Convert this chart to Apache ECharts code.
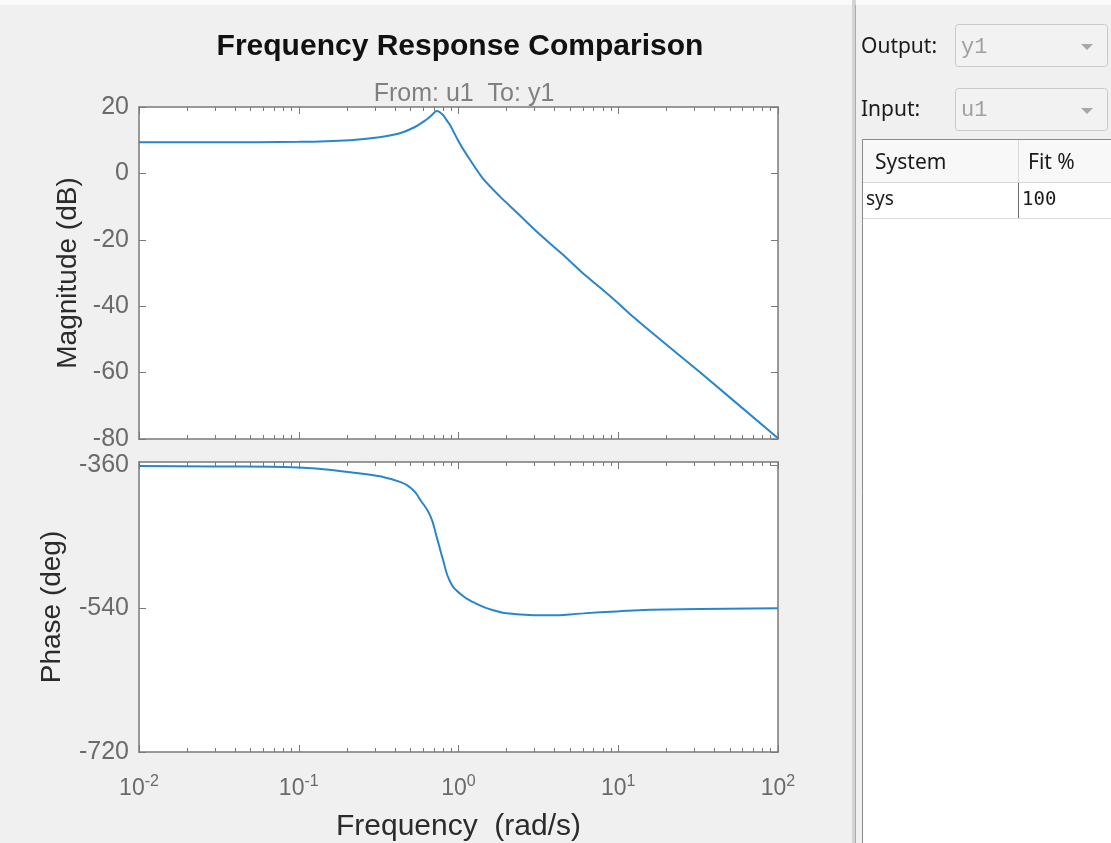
<!DOCTYPE html>
<html>
<head>
<meta charset="utf-8">
<script src="https://cdn.jsdelivr.net/npm/echarts@6/dist/echarts.min.js"></script>
<style>
html, body { margin: 0; padding: 0; background: #f0f0f0; }
#main { width: 1111px; height: 843px; }
</style>
</head>
<body>
<div id="main"></div>
<script>
// values (rad/s, dB, deg)
var freqMag = [0.01, 0.03, 0.1, 0.21, 0.32, 0.43, 0.53, 0.617, 0.664, 0.733, 0.80, 0.84, 0.885, 1.0, 1.13, 1.42, 1.82, 2.32, 2.93, 3.74, 4.78, 6.01, 7.69, 9.82, 12.4, 15.8, 32.5, 100];
var magDb = [9.4, 9.4, 9.5, 10.0, 10.9, 12.1, 13.9, 15.9, 17.1, 18.8, 17.6, 16.1, 14.6, 9.7, 5.5, -1.5, -7, -11.8, -16.5, -21.1, -25.6, -30.1, -34.4, -38.8, -43.2, -47.5, -59.9, -79.8];

var freqPh = [0.01, 0.03, 0.1, 0.21, 0.32, 0.43, 0.519, 0.574, 0.664, 0.73, 0.803, 0.885, 1.02, 1.24, 1.65, 2.31, 3.74, 6.04, 9.78, 15.8, 32.5, 100];
var phaseDeg = [-361, -361.5, -363, -369, -374, -381, -391, -403, -423, -450, -480, -506, -521, -532, -542, -547, -548.5, -546, -543.5, -541.5, -540.5, -539.5];

var freqTicks = [0.01, 0.1, 1, 10, 100];
var freqMinor = [0.02, 0.03, 0.04, 0.05, 0.06, 0.07, 0.08, 0.09,
                 0.2, 0.3, 0.4, 0.5, 0.6, 0.7, 0.8, 0.9,
                 2, 3, 4, 5, 6, 7, 8, 9,
                 20, 30, 40, 50, 60, 70, 80, 90];
var supText = { 0.01: '-2', 0.1: '-1', 1: '0', 10: '1', 100: '2' };
var magTicks = [-80, -60, -40, -20, 0, 20];
var phaseTicks = [-720, -540, -360];

var chartDom = document.getElementById('main');
var myChart = echarts.init(chartDom);
var option;

var boxColor = '#7a7a7a';
var labelColor = '#6a6a6a';
var font = 'Liberation Sans';

function freqAxis(grid, pos, minor, withLabels) {
  return {
    type: 'log',
    logBase: 10,
    gridIndex: grid,
    position: pos,
    min: 0.01,
    max: 100,
    axisLine: { show: !minor, onZero: false, lineStyle: { color: boxColor, width: 1.5 } },
    axisTick: {
      show: true,
      inside: true,
      length: minor ? 4 : 7,
      customValues: minor ? freqMinor : freqTicks,
      lineStyle: { color: boxColor },
    },
    axisLabel: withLabels
      ? {
          show: true,
          customValues: freqTicks,
          margin: 22,
          formatter: function (v) {
            return '{b|10}{s|' + supText[v] + '}';
          },
          rich: {
            b: { fontSize: 23, fontFamily: font, color: labelColor },
            s: { fontSize: 16, fontFamily: font, color: labelColor, padding: [0, 0, 13, 0] },
          },
        }
      : { show: false },
    splitLine: { show: false },
  };
}

function valAxis(grid, pos, min, max, ticks, withLabels, name, gap) {
  return {
    type: 'value',
    gridIndex: grid,
    position: pos,
    min: min,
    max: max,
    name: name || '',
    nameLocation: 'middle',
    nameGap: gap || 0,
    nameRotate: 90,
    nameTextStyle: { fontSize: 28, fontFamily: font, color: '#2b2b2b' },
    axisLine: { show: true, onZero: false, lineStyle: { color: boxColor, width: 1.5 } },
    axisTick: {
      show: true,
      inside: true,
      length: 7,
      customValues: ticks,
      lineStyle: { color: boxColor },
    },
    axisLabel: {
      show: withLabels,
      customValues: ticks,
      fontSize: 25,
      fontFamily: font,
      color: labelColor,
      margin: 10,
    },
    splitLine: { show: false },
  };
}

var xAxes = [
  freqAxis(0, 'bottom', false, false),
  freqAxis(0, 'bottom', true, false),
  freqAxis(0, 'top', false, false),
  freqAxis(0, 'top', true, false),
  freqAxis(1, 'bottom', false, true),
  freqAxis(1, 'bottom', true, false),
  freqAxis(1, 'top', false, false),
  freqAxis(1, 'top', true, false),
];
xAxes[4].name = 'Frequency  (rad/s)';
xAxes[4].nameLocation = 'middle';
xAxes[4].nameGap = 60;
xAxes[4].nameTextStyle = { fontSize: 30, fontFamily: font, color: '#2b2b2b' };

var yAxes = [
  valAxis(0, 'left', -80, 20, magTicks, true, 'Magnitude (dB)', 57),
  valAxis(0, 'right', -80, 20, magTicks, false),
  valAxis(1, 'left', -720, -356, phaseTicks, true, 'Phase (deg)', 73),
  valAxis(1, 'right', -720, -356, phaseTicks, false),
];

option = {
  backgroundColor: '#f0f0f0',
  animation: false,
  title: [
    {
      text: 'Frequency Response Comparison',
      left: 455,
      top: 27,
      textAlign: 'center',
      textStyle: { fontSize: 30, fontWeight: 'bold', fontFamily: font, color: '#111' },
    },
    {
      text: 'From: u1  To: y1',
      left: 459,
      top: 77,
      textAlign: 'center',
      textStyle: { fontSize: 25, fontWeight: 'normal', fontFamily: font, color: '#808080' },
    },
  ],
  grid: [
    { left: 139, top: 107, width: 639, height: 332, show: true, backgroundColor: '#fff', borderWidth: 0 },
    { left: 139, top: 462, width: 639, height: 292, show: true, backgroundColor: '#fff', borderWidth: 0 },
  ],
  xAxis: xAxes,
  yAxis: yAxes,
  series: [
    {
      name: 'sys',
      type: 'line',
      xAxisIndex: 0,
      yAxisIndex: 0,
      data: freqMag.map(function (f, i) { return [f, magDb[i]]; }),
      showSymbol: false,
      smooth: 0.25,
      lineStyle: { color: '#2a86cc', width: 2 },
    },
    {
      name: 'sys',
      type: 'line',
      xAxisIndex: 4,
      yAxisIndex: 2,
      data: freqPh.map(function (f, i) { return [f, phaseDeg[i]]; }),
      showSymbol: false,
      smooth: 0.5,
      lineStyle: { color: '#2a86cc', width: 2 },
    },
  ],
  graphic: [
    // right hand panel
    { type: 'rect', shape: { x: 0, y: 0, width: 1111, height: 5 }, style: { fill: '#fafafa' }, silent: true },
    { type: 'rect', shape: { x: 852, y: 0, width: 4, height: 843 }, style: { fill: '#d4d4d4' }, silent: true },
    { type: 'line', shape: { x1: 855.5, y1: 5, x2: 855.5, y2: 843 }, style: { stroke: '#a9a9a9', lineWidth: 1 }, silent: true },
    { type: 'text', x: 861, y: 47, style: { text: 'Output:', font: '21px "Noto Sans"', fill: '#1a1a1a', verticalAlign: 'middle' } },
    { type: 'rect', shape: { x: 955.5, y: 24.5, width: 152, height: 42, r: 3 }, style: { fill: '#f2f2f2', stroke: '#c9c9c9' } },
    { type: 'text', x: 961, y: 47, style: { text: 'y1', font: '22px "Liberation Mono"', fill: '#a0a0a0', verticalAlign: 'middle' } },
    { type: 'polygon', shape: { points: [[1081, 44], [1093, 44], [1087, 50]] }, style: { fill: '#a8a8a8' } },
    { type: 'text', x: 861, y: 110, style: { text: 'Input:', font: '21px "Noto Sans"', fill: '#1a1a1a', verticalAlign: 'middle' } },
    { type: 'rect', shape: { x: 955.5, y: 88.5, width: 152, height: 42, r: 3 }, style: { fill: '#f2f2f2', stroke: '#c9c9c9' } },
    { type: 'text', x: 961, y: 110, style: { text: 'u1', font: '22px "Liberation Mono"', fill: '#a0a0a0', verticalAlign: 'middle' } },
    { type: 'polygon', shape: { points: [[1081, 108], [1093, 108], [1087, 114]] }, style: { fill: '#a8a8a8' } },
    // table
    { type: 'rect', shape: { x: 862.5, y: 139.5, width: 260, height: 720 }, style: { fill: '#ffffff', stroke: '#8a8a8a' } },
    { type: 'rect', shape: { x: 863, y: 140, width: 250, height: 42 }, style: { fill: '#f8f8f8' } },
    { type: 'line', shape: { x1: 863, y1: 182.5, x2: 1111, y2: 182.5 }, style: { stroke: '#d8d8d8' } },
    { type: 'line', shape: { x1: 1018.5, y1: 140, x2: 1018.5, y2: 182 }, style: { stroke: '#dcdcdc' } },
    { type: 'line', shape: { x1: 1018.5, y1: 183, x2: 1018.5, y2: 218 }, style: { stroke: '#6a6a6a' } },
    { type: 'line', shape: { x1: 863, y1: 218.5, x2: 1111, y2: 218.5 }, style: { stroke: '#dcdcdc' } },
    { type: 'text', x: 875, y: 163, style: { text: 'System', font: '21px "Noto Sans"', fill: '#1a1a1a', verticalAlign: 'middle' } },
    { type: 'text', x: 1028, y: 163, style: { text: 'Fit %', font: '21px "Noto Sans"', fill: '#1a1a1a', verticalAlign: 'middle' } },
    { type: 'text', x: 866, y: 200, style: { text: 'sys', font: '19px "Noto Sans"', fill: '#1a1a1a', verticalAlign: 'middle' } },
    { type: 'text', x: 1022, y: 200, style: { text: '100', font: '19px "DejaVu Sans Mono"', fill: '#1a1a1a', verticalAlign: 'middle' } },
  ],
};

option && myChart.setOption(option);

window.onresize = function () {
  myChart.resize();
};
</script>
</body>
</html>
